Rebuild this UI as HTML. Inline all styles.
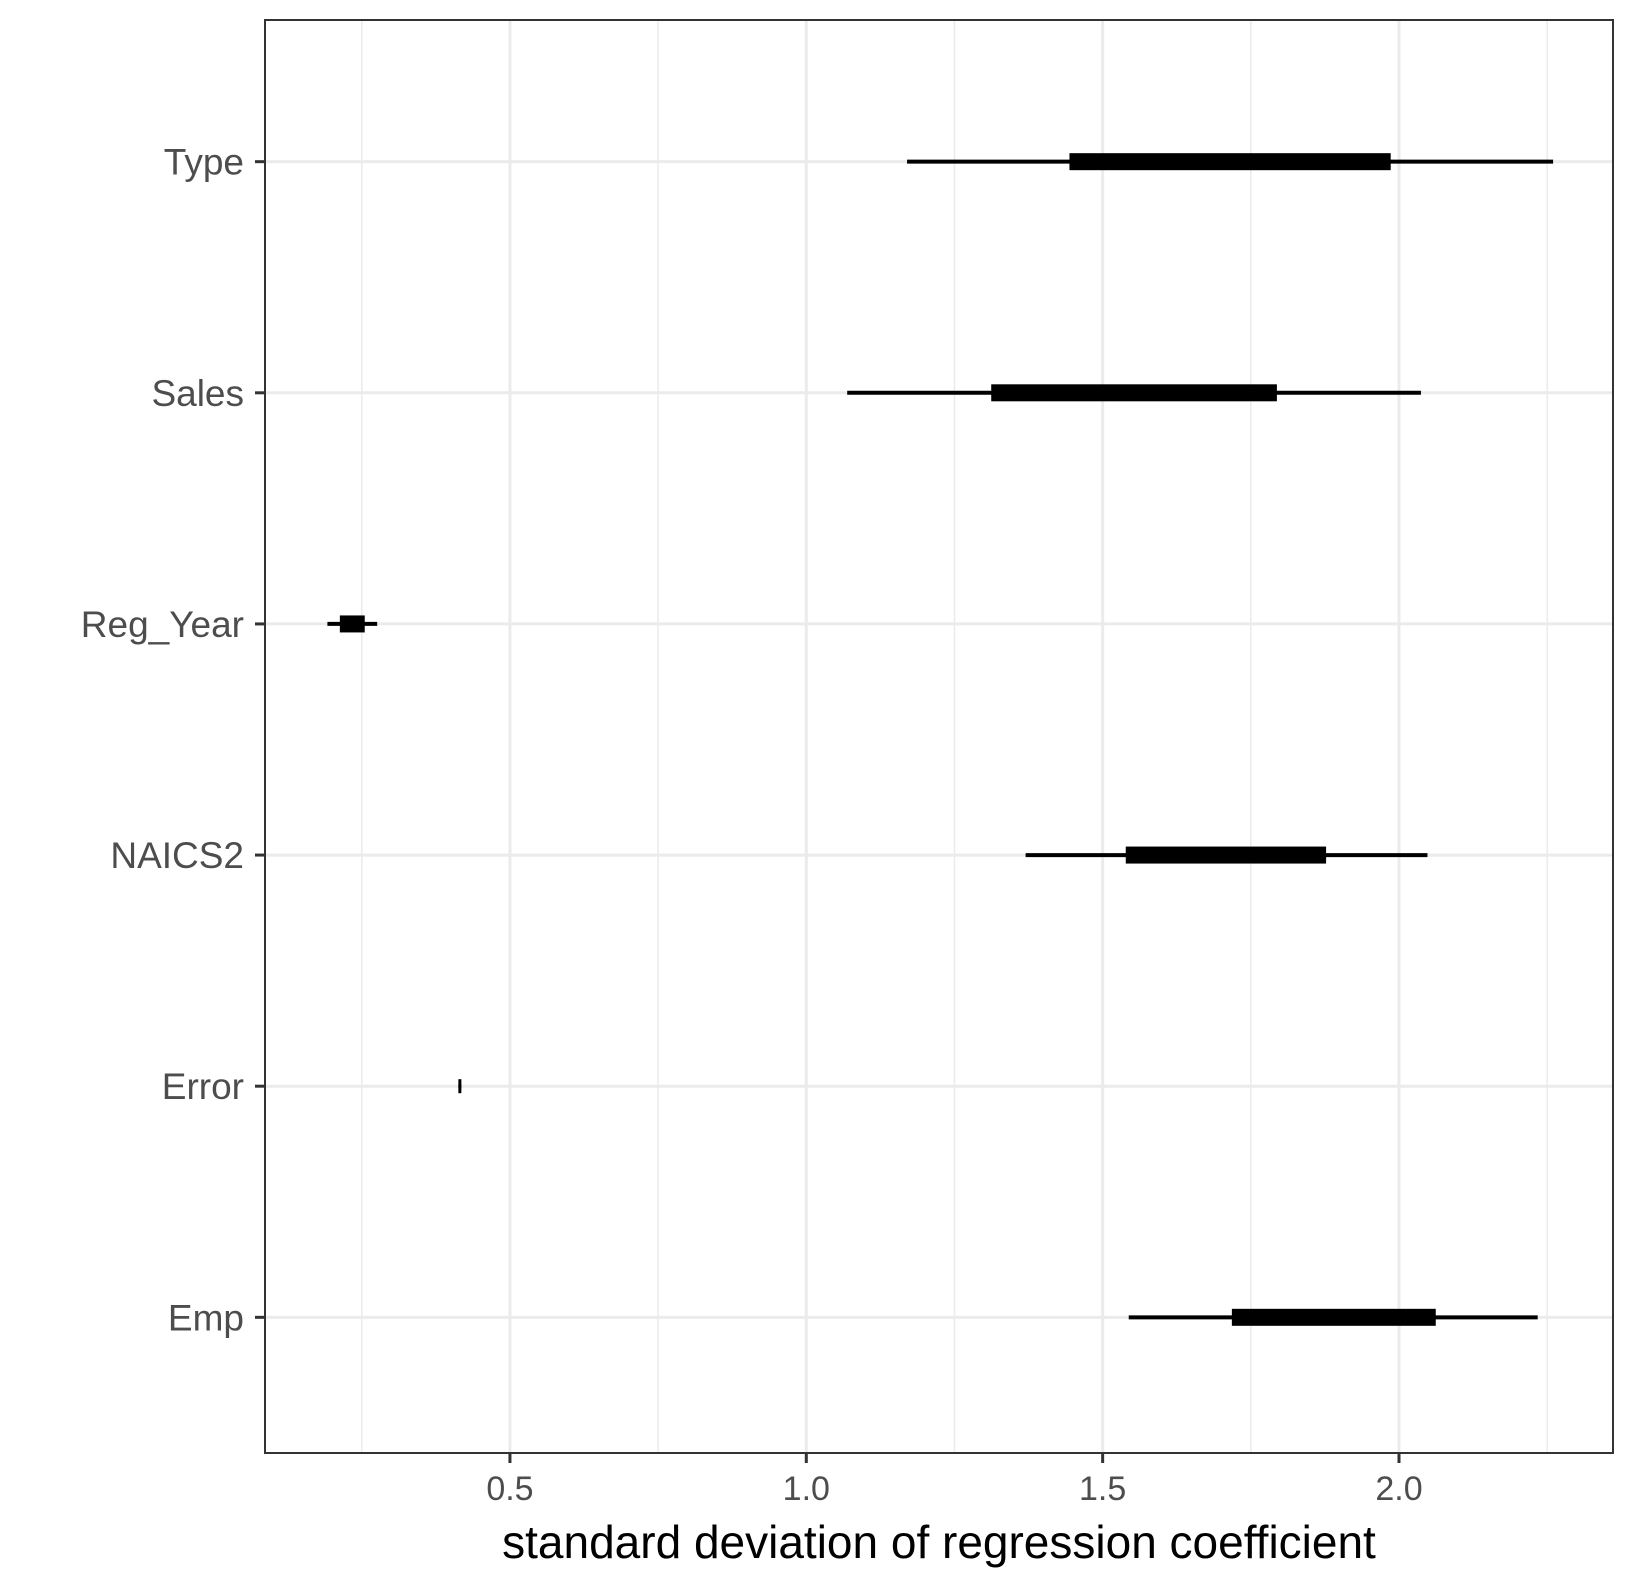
<!DOCTYPE html>
<html><head><meta charset="utf-8"><style>
body{margin:0;background:#fff}
text{font-family:"Liberation Sans",Arial,sans-serif}
</style></head><body>
<svg id="chart" width="1637" height="1591" viewBox="0 0 1637 1591" xmlns="http://www.w3.org/2000/svg">
<rect width="1637" height="1591" fill="#fff"/>
<g id="grid"></g><g id="marks"></g><g id="axes"></g>
</svg>
<script>
const categories = ["Emp","Error","NAICS2","Reg_Year","Sales","Type"];
const outerLow  = [1.544, 0.413, 1.370, 0.192, 1.069, 1.170];
const outerHigh = [2.234, 0.418, 2.048, 0.276, 2.037, 2.260];
const innerLow  = [1.718, 0.414, 1.539, 0.213, 1.312, 1.444];
const innerHigh = [2.062, 0.417, 1.877, 0.255, 1.794, 1.986];
const majorTicks = [0.5, 1.0, 1.5, 2.0];
const minorTicks = [0.25, 0.75, 1.25, 1.75, 2.25];
const tickLabels = ["0.5","1.0","1.5","2.0"];

const L=265,R=1613,T=20,B=1453;
const x=v=>213.6+v*592.7;
const unit=(B-T)/(categories.length-1+1.2);
const y=i=>B-(0.6+i)*unit+3;
const NS="http://www.w3.org/2000/svg";
function mk(tag,attrs,parent){const e=document.createElementNS(NS,tag);for(const k in attrs)e.setAttribute(k,attrs[k]);parent.appendChild(e);return e;}
const grid=document.getElementById('grid'),marks=document.getElementById('marks'),axes=document.getElementById('axes');
minorTicks.forEach(v=>{const l=mk('line',{x1:x(v),x2:x(v),y1:T,y2:B,stroke:'#ebebeb','stroke-width':1.5},grid);

});
majorTicks.forEach(v=>{const l=mk('line',{x1:x(v),x2:x(v),y1:T,y2:B,stroke:'#ebebeb','stroke-width':3},grid);

});
categories.forEach((c,i)=>{const l=mk('line',{x1:L,x2:R,y1:y(i),y2:y(i),stroke:'#ebebeb','stroke-width':3},grid);

});
categories.forEach((c,i)=>{
 const yy=y(i);
 const t=mk('line',{x1:x(outerLow[i]),x2:x(outerHigh[i]),y1:yy,y2:yy,stroke:'#000','stroke-width':4},marks);
 
 
 let w=x(innerHigh[i])-x(innerLow[i]);let h=17;
 if(w<3){w=3;h=14;}
 const r=mk('rect',{x:(x(innerLow[i])+x(innerHigh[i]))/2-w/2,y:yy-h/2,width:w,height:h,fill:'#000'},marks);
 
 
 const tk=mk('line',{x1:L-10,x2:L,y1:yy,y2:yy,stroke:'#333','stroke-width':3},axes);
 
 
 const lb=mk('text',{x:L-21,y:yy+13,'text-anchor':'end','font-size':37,fill:'#4d4d4d'},axes);
 lb.textContent=c;
 
 
});
majorTicks.forEach((v,i)=>{
 const tk=mk('line',{x1:x(v),x2:x(v),y1:B,y2:B+10,stroke:'#333','stroke-width':3},axes);
 
 
 const lb=mk('text',{x:x(v),y:1500,'text-anchor':'middle','font-size':34,fill:'#4d4d4d'},axes);
 lb.textContent=tickLabels[i];
 
 
});
const fr=mk('rect',{x:L,y:T,width:R-L,height:B-T,fill:'none',stroke:'#333','stroke-width':2},axes);


const xt=mk('text',{x:(L+R)/2,y:1558,'text-anchor':'middle','font-size':46,fill:'#000'},axes);
xt.textContent='standard deviation of regression coefficient';


</script>
</body></html>
